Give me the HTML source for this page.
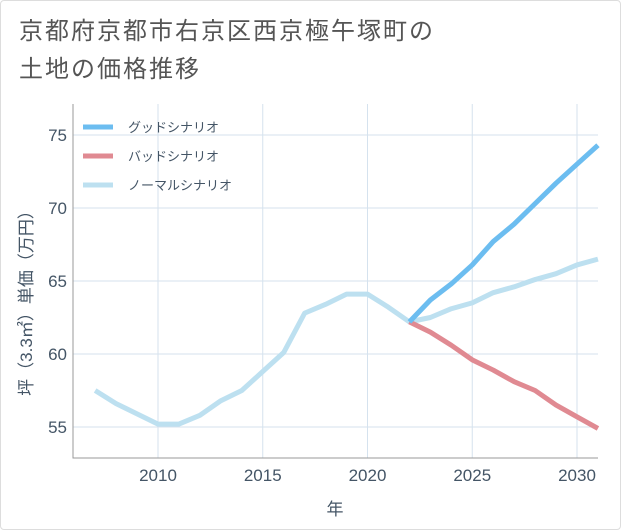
<!DOCTYPE html>
<html><head><meta charset="utf-8"><style>
html,body{margin:0;padding:0;background:#fff}
#card{position:relative;width:619px;height:528px;border:1px solid #ddd;border-radius:4px;font-family:"Liberation Sans","Noto Sans CJK JP",sans-serif}
#title{position:absolute;left:18px;top:12px;font-size:24px;line-height:38px;color:#555;letter-spacing:2px}
svg{position:absolute;left:0;top:0}
</style></head><body>
<div id="card">
<div id="title">京都府京都市右京区西京極午塚町の<br>土地の価格推移</div>
<svg id="chart" width="621" height="530"></svg>
</div>
<script>
const years=[2007,2008,2009,2010,2011,2012,2013,2014,2015,2016,2017,2018,2019,2020,2021,2022,2023,2024,2025,2026,2027,2028,2029,2030,2031];
const normal=[57.5,56.6,55.9,55.2,55.2,55.8,56.8,57.5,58.8,60.1,62.8,63.4,64.1,64.1,63.2,62.2,62.5,63.1,63.5,64.2,64.6,65.1,65.5,66.1,66.5];
const goodYears=[2022,2023,2024,2025,2026,2027,2028,2029,2030,2031];
const good=[62.2,63.7,64.8,66.1,67.7,68.9,70.3,71.7,73.0,74.3];
const bad=[62.2,61.5,60.6,59.6,58.9,58.1,57.5,56.5,55.7,54.9];
const xTicks=[2010,2015,2020,2025,2030];
const yTicks=[55,60,65,70,75];
const NS='http://www.w3.org/2000/svg';
const svg=document.getElementById('chart');
const L=72,R=597,T=103,B=457;
const x=v=>157+(v-2010)*(576-157)/20;
const y=v=>426+(v-55)*(134-426)/20;
function mk(t,a,p){const e=document.createElementNS(NS,t);for(const k in a)e.setAttribute(k,a[k]);(p||svg).appendChild(e);return e;}
const grid=mk('g',{});


xTicks.forEach(t=>{mk('line',{x1:x(t),x2:x(t),y1:T,y2:B,stroke:'#d5e2ee','stroke-width':1},grid);
const tx=mk('text',{x:x(t),y:B+23,'text-anchor':'middle','font-size':17,fill:'#445566'});tx.textContent=t;

});
yTicks.forEach(t=>{mk('line',{x1:L,x2:R,y1:y(t),y2:y(t),stroke:'#d5e2ee','stroke-width':1},grid);
const tx=mk('text',{x:L-6,y:y(t)+6,'text-anchor':'end','font-size':17,fill:'#445566'});tx.textContent=t;

});
const ax=mk('path',{d:`M${L},${T}L${L},${B}L${R},${B}`,fill:'none',stroke:'#999','stroke-width':1});


function line(xs,vs,c,n){const p=mk('path',{d:xs.map((t,i)=>(i?'L':'M')+x(t)+','+y(vs[i])).join(''),fill:'none',stroke:c,'stroke-width':5,'stroke-linejoin':'round'});

}
line(years,normal,'#bde0f0','normal-scenario-line');
line(goodYears,bad,'#e08a92','bad-scenario-line');
line(goodYears,good,'#6cbdf0','good-scenario-line');
const xt=mk('text',{x:334,y:514,'text-anchor':'middle','font-size':17,fill:'#445566'});xt.textContent='年';


const yt=mk('text',{x:0,y:0,'text-anchor':'middle','font-size':17,fill:'#445566',transform:'translate(31,298) rotate(-90)'});yt.textContent='坪（3.3㎡）単価（万円）';


const leg=[['グッドシナリオ','#6cbdf0'],['バッドシナリオ','#e08a92'],['ノーマルシナリオ','#bde0f0']];
leg.forEach((l,i)=>{const g=mk('g',{});


const yy=126+i*29;mk('line',{x1:82,x2:112,y1:yy,y2:yy,stroke:l[1],'stroke-width':5},g);
const t=mk('text',{x:127,y:yy+5,'font-size':13,fill:'#445566'},g);t.textContent=l[0];});
</script>
</body></html>
